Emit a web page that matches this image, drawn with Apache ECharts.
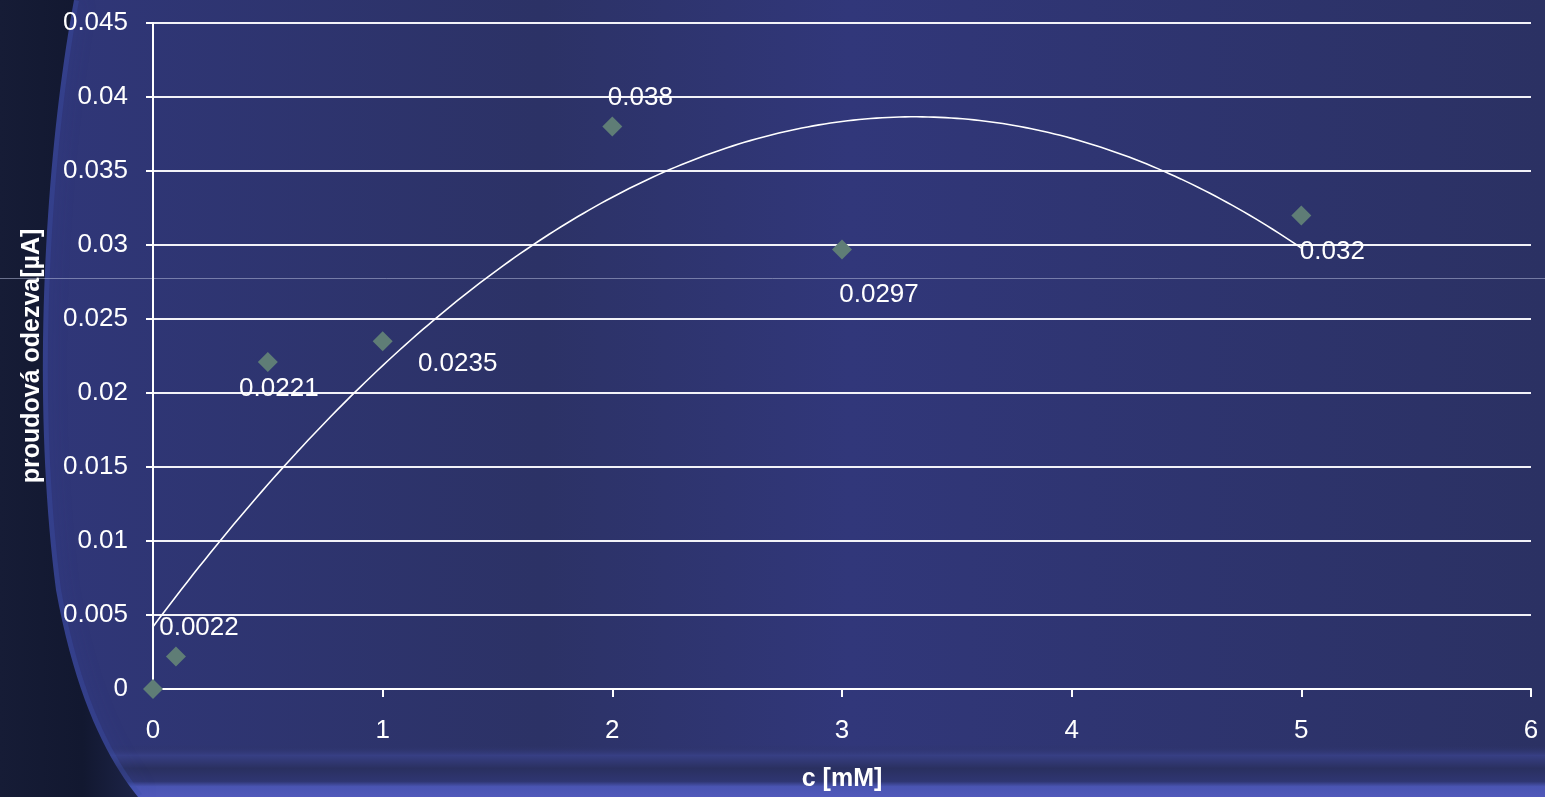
<!DOCTYPE html>
<html>
<head>
<meta charset="utf-8">
<title>proudová odezva</title>
<script src="https://cdn.jsdelivr.net/npm/echarts@6/dist/echarts.min.js"></script>
<style>
  html, body { margin: 0; padding: 0; background: #2d3368; }
  #chart { width: 1545px; height: 797px; }
</style>
</head>
<body>
<div id="chart"></div>
<script>
// Measured concentrations and responses
const concentration = [0, 0.1, 0.5, 1, 2, 3, 5];
const response = [0, 0.0022, 0.0221, 0.0235, 0.038, 0.0297, 0.032];
const xTicks = [0, 1, 2, 3, 4, 5, 6];
const yTicks = [0, 0.005, 0.01, 0.015, 0.02, 0.025, 0.03, 0.035, 0.04, 0.045];
const xTitle = 'c [mM]';
const yTitle = 'proudová odezva[µA]';

// Where each value label sits relative to its marker (px); null = no label
const labelOffsets = [null, [23, -29], [11, 27], [75, 23], [28, -29], [37, 45], [31, 36]];

// Second-order least-squares trendline fitted to the measurements
function quadFit(xs, ys) {
  const S = k => xs.reduce((s, x) => s + Math.pow(x, k), 0);
  const T = k => xs.reduce((s, x, i) => s + Math.pow(x, k) * ys[i], 0);
  const M = [
    [S(0), S(1), S(2), T(0)],
    [S(1), S(2), S(3), T(1)],
    [S(2), S(3), S(4), T(2)]
  ];
  for (let i = 0; i < 3; i++) {
    for (let j = i + 1; j < 3; j++) {
      const f = M[j][i] / M[i][i];
      for (let k = i; k < 4; k++) M[j][k] -= f * M[i][k];
    }
  }
  const c = [0, 0, 0];
  for (let i = 2; i >= 0; i--) {
    let s = M[i][3];
    for (let k = i + 1; k < 3; k++) s -= M[i][k] * c[k];
    c[i] = s / M[i][i];
  }
  return c;
}
const coef = quadFit(concentration, response);
const xMinFit = Math.min(...concentration), xMaxFit = Math.max(...concentration);
const trend = [];
for (let i = 0; i <= 200; i++) {
  const x = xMinFit + (xMaxFit - xMinFit) * i / 200;
  trend.push([x, coef[0] + coef[1] * x + coef[2] * x * x]);
}

const points = concentration.map((x, i) => {
  const off = labelOffsets[i];
  return {
    value: [x, response[i]],
    label: off ? { show: true, position: 'inside', offset: off } : { show: false }
  };
});

const W = 1545, H = 797;
const font = '"Liberation Sans", Arial, sans-serif';

// Dark curved panel along the left edge of the slide backdrop
function bezierPts(p0, p1, p2, p3, n) {
  const out = [];
  for (let i = 0; i <= n; i++) {
    const t = i / n, u = 1 - t;
    out.push([
      u * u * u * p0[0] + 3 * u * u * t * p1[0] + 3 * u * t * t * p2[0] + t * t * t * p3[0],
      u * u * u * p0[1] + 3 * u * u * t * p1[1] + 3 * u * t * t * p2[1] + t * t * t * p3[1]
    ]);
  }
  return out;
}
const edge = bezierPts([74, 0], [46, 150], [30, 390], [56, 590], 40)
  .concat(bezierPts([56, 590], [76, 700], [108, 760], [138, 797], 20).slice(1));
const panel = [[0, 0]].concat(edge, [[0, H]]);

const chart = echarts.init(document.getElementById('chart'), null, { renderer: 'canvas' });
chart.setOption({
  backgroundColor: 'transparent',
  animation: false,
  graphic: [
    { type: 'rect', z: -10, silent: true, shape: { x: 0, y: 0, width: W, height: H },
      style: { fill: new echarts.graphic.LinearGradient(0, 0, 1, 0, [
        { offset: 0, color: '#30377a' }, { offset: 0.35, color: '#2c3266' },
        { offset: 0.55, color: '#31377a' }, { offset: 1, color: '#2b3163' }]) } },
    { type: 'rect', z: -9, silent: true, shape: { x: 0, y: 745, width: W, height: 52 },
      style: { fill: new echarts.graphic.LinearGradient(0, 0, 0, 1, [
        { offset: 0, color: 'rgba(44,50,102,0)' }, { offset: 0.2, color: '#373f84' },
        { offset: 0.45, color: '#2a3060' }, { offset: 0.7, color: '#2f3672' },
        { offset: 0.8, color: '#4a55b2' }, { offset: 1, color: '#5159ba' }]) } },
    { type: 'polyline', z: -8, silent: true, shape: { points: edge },
      style: { stroke: 'rgba(60,80,170,0.35)', lineWidth: 10, fill: null,
        shadowBlur: 20, shadowColor: 'rgba(60,80,180,0.5)' } },
    { type: 'polygon', z: -7, silent: true, shape: { points: panel },
      style: { fill: new echarts.graphic.LinearGradient(0, 0, 1, 0, [
        { offset: 0, color: '#161c36' }, { offset: 0.6, color: '#121830' }, { offset: 1, color: '#1d2448' }]) } },
    { type: 'line', z: -6, silent: true, shape: { x1: 0, y1: 278.5, x2: W, y2: 278.5 },
      style: { stroke: 'rgba(190,195,225,0.5)', lineWidth: 1 } }
  ],
  grid: { left: 153, right: 14, top: 23, bottom: 108, containLabel: false },
  xAxis: {
    type: 'value', min: xTicks[0], max: xTicks[xTicks.length - 1], interval: 1,
    name: xTitle, nameLocation: 'middle', nameGap: 78,
    nameTextStyle: { color: '#ffffff', fontFamily: font, fontSize: 25, fontWeight: 'bold' },
    axisLine: { show: true, onZero: false, lineStyle: { color: '#ffffff', width: 2 } },
    axisTick: { show: true, length: 8, lineStyle: { color: '#ffffff', width: 2 } },
    axisLabel: { color: '#ffffff', fontFamily: font, fontSize: 26, margin: 29 },
    splitLine: { show: false }
  },
  yAxis: {
    type: 'value', min: yTicks[0], max: yTicks[yTicks.length - 1], interval: 0.005,
    name: yTitle, nameLocation: 'middle', nameGap: 108, nameRotate: 90,
    nameTextStyle: { color: '#ffffff', fontFamily: font, fontSize: 25, fontWeight: 'bold' },
    axisLine: { show: true, onZero: false, lineStyle: { color: '#ffffff', width: 2 } },
    axisTick: { show: true, length: 7, lineStyle: { color: '#ffffff', width: 2 } },
    axisLabel: { color: '#ffffff', fontFamily: font, fontSize: 26, margin: 25,
      formatter: v => String(+v.toFixed(4)) },
    splitLine: { show: true, lineStyle: { color: '#f2f2f8', width: 2 } }
  },
  series: [
    {
      name: 'trend', type: 'line', data: trend, showSymbol: false, smooth: false,
      lineStyle: { color: '#ffffff', width: 1.6 }, z: 3, silent: true
    },
    {
      name: 'odezva', type: 'scatter', data: points, symbol: 'diamond', symbolSize: 20,
      itemStyle: { color: '#5f7d76', opacity: 1 }, z: 4,
      label: { color: '#ffffff', opacity: 1, fontFamily: font, fontSize: 26,
        textBorderWidth: 0, textBorderColor: 'transparent',
        formatter: p => String(p.value[1]) }
    }
  ]
});
</script>
</body>
</html>
